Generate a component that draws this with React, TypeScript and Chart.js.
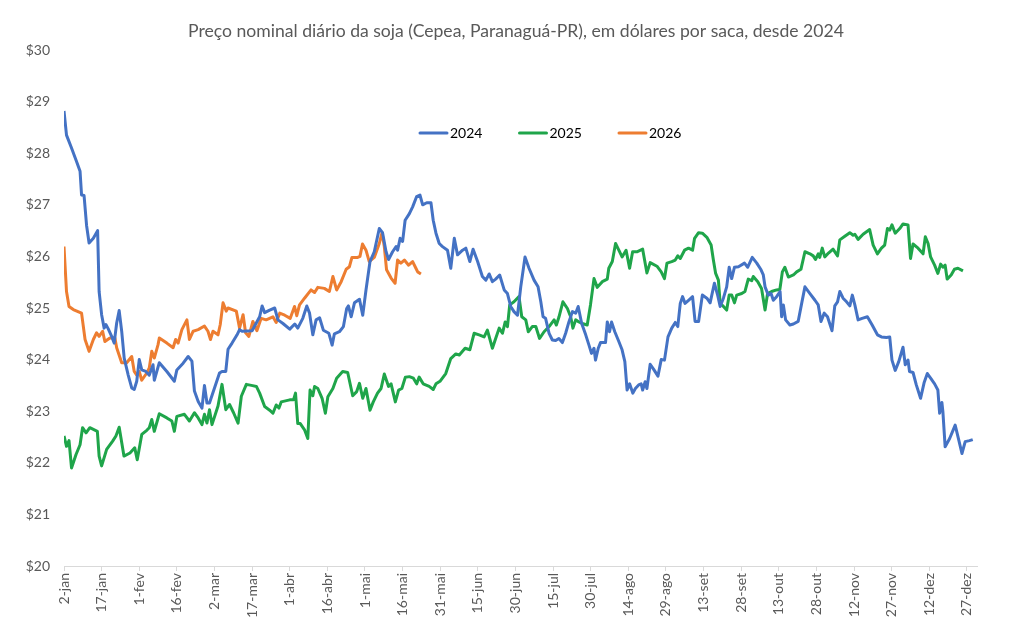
import React, { useEffect, useRef } from "react";
import { Chart, registerables } from "chart.js";

Chart.register(...registerables);

const chartTitle = "Preço nominal diário da soja (Cepea, Paranaguá-PR), em dólares por saca, desde 2024";

const tickLabels = [
  "2-jan", "17-jan", "1-fev", "16-fev", "2-mar", "17-mar", "1-abr", "16-abr", "1-mai",
  "16-mai", "31-mai", "15-jun", "30-jun", "15-jul", "30-jul", "14-ago", "29-ago", "13-set",
  "28-set", "13-out", "28-out", "12-nov", "27-nov", "12-dez", "27-dez",
];

// day offsets since 2-jan, and prices in US$ per saca
const days2024 = [
  0, 1, 3, 5, 6.4, 7, 8, 9, 10, 11.7, 13.4, 14, 15, 16, 16.7, 17.6, 19, 20, 21, 22, 23, 24, 25.6, 27, 28, 29, 30, 31, 32.6, 34, 35.5, 36, 38, 41, 44, 45, 47.5, 49.5, 51, 52, 53.5, 55, 56, 57, 58, 60, 62, 63, 64.5, 65.4, 67, 69, 70, 71, 75, 78, 79, 80, 82, 84, 85.3, 87.3, 90, 92, 93.2, 95.2, 96.8, 97.9, 99.2, 100.5, 101.9, 103.4, 105.6, 106.9, 107.8, 109.8, 111.4, 112.7, 113.4, 114.5, 115.8, 117.8, 119.1, 120.4, 122, 123.7, 125.7, 127, 128.4, 129.4, 131, 132.4, 133, 134, 135, 136, 137.7, 139, 140.6, 141.9, 143, 144.6, 146.3, 147.2, 148.3, 149.6, 150.9, 152.9, 154.2, 155.6, 156.9, 158.9, 160.2, 161.8, 163.1, 164.9, 166.8, 168.2, 169.5, 170.8, 172.1, 173.7, 175.5, 176.8, 178.1, 179.4, 180.8, 182.1, 183.8, 185.4, 187.4, 189, 190.1, 191, 192, 193.4, 194.7, 196, 197.3, 198.7, 200, 201.3, 202.7, 204, 205, 206.4, 208, 209.3, 210.3, 211.3, 211.9, 213, 213.9, 215.9, 216.6, 217.5, 218.3, 219.6, 221.2, 222.5, 223.6, 224.5, 225.5, 226.8, 227.8, 229.1, 230.1, 230.7, 231.7, 232.4, 233.7, 235.1, 236.8, 238.1, 239.4, 240.8, 242.3, 243.7, 244.7, 245.7, 246.6, 247.6, 249, 250.6, 251.6, 253, 254.5, 256.3, 257.6, 259.3, 260.6, 261.6, 262.9, 264.2, 265.2, 266.2, 267.3, 268.9, 271.3, 272.6, 274.4, 276.2, 277.9, 278.8, 279.5, 280.8, 281.9, 282.8, 284.1, 285.5, 286.1, 286.8, 287.7, 289.4, 290.8, 292.7, 294.1, 295.4, 297.4, 299.4, 300.7, 301.8, 303.1, 304.4, 306.2, 307.3, 308.4, 309.3, 310.6, 312, 313.3, 314.3, 315.3, 316.6, 318.2, 320.3, 322.2, 324.3, 325.9, 327.9, 329.2, 330.1, 331.4, 332.8, 334.5, 335.4, 336.5, 337.1, 338.5, 339.8, 341.5, 342.9, 344.2, 345.5, 347.1, 348.4, 349.1, 350, 350.4, 351.3, 353.1, 355.3, 356.6, 358, 359.3, 361, 362.3,
];
const prices2024 = [
  28.82, 28.35, 28.1, 27.84, 27.65, 27.19, 27.18, 26.6, 26.26, 26.35, 26.5, 25.32, 24.87, 24.61, 24.68, 24.6, 24.45, 24.32, 24.71, 24.95, 24.55, 24.03, 23.7, 23.45, 23.42, 23.58, 24.0, 23.8, 23.77, 23.7, 23.9, 23.6, 23.94, 23.77, 23.58, 23.8, 23.93, 24.06, 23.97, 23.39, 23.19, 23.06, 23.5, 23.16, 23.16, 23.45, 23.74, 23.77, 23.77, 24.2, 24.32, 24.48, 24.58, 24.55, 24.56, 24.83, 25.04, 24.91, 24.96, 25.0, 24.77, 24.7, 24.59, 24.69, 24.61, 24.8, 25.04, 24.9, 24.48, 24.77, 24.81, 24.57, 24.51, 24.28, 24.5, 24.54, 24.64, 24.99, 25.04, 24.83, 25.1, 25.17, 24.86, 25.35, 25.9, 26.09, 26.54, 26.46, 26.09, 25.94, 26.09, 26.19, 26.12, 26.35, 26.29, 26.7, 26.83, 26.96, 27.16, 27.19, 27.0, 27.04, 27.04, 26.7, 26.45, 26.25, 26.19, 26.12, 25.77, 26.35, 26.03, 26.12, 26.16, 25.9, 26.14, 25.9, 25.61, 25.54, 25.66, 25.51, 25.56, 25.64, 25.35, 25.28, 25.03, 24.93, 24.86, 25.41, 25.99, 25.77, 25.54, 25.41, 25.12, 24.83, 24.8, 24.51, 24.38, 24.37, 24.41, 24.33, 24.51, 24.73, 24.93, 24.9, 25.03, 24.7, 24.48, 24.28, 24.12, 24.22, 23.99, 24.22, 24.33, 24.33, 24.73, 24.54, 24.73, 24.54, 24.35, 24.19, 23.96, 23.41, 23.53, 23.35, 23.44, 23.51, 23.53, 23.41, 23.57, 23.44, 23.91, 23.81, 23.68, 24.0, 23.99, 24.44, 24.61, 24.72, 24.64, 25.09, 25.22, 25.09, 25.15, 25.22, 24.74, 24.74, 25.25, 25.19, 25.1, 25.48, 25.25, 25.03, 25.19, 25.41, 25.79, 25.57, 25.79, 25.8, 25.87, 25.79, 25.98, 25.87, 25.74, 25.64, 25.41, 25.25, 25.28, 25.15, 25.22, 25.32, 24.83, 25.06, 24.77, 24.67, 24.69, 24.74, 25.09, 25.41, 25.28, 25.15, 25.06, 24.74, 24.9, 24.83, 24.56, 25.04, 25.12, 25.32, 25.19, 25.12, 25.04, 25.25, 25.06, 24.77, 24.8, 24.83, 24.67, 24.48, 24.44, 24.43, 24.44, 23.99, 23.79, 23.96, 24.24, 23.9, 23.99, 23.77, 23.75, 23.51, 23.25, 23.55, 23.73, 23.64, 23.53, 23.41, 22.96, 23.17, 22.99, 22.31, 22.47, 22.73, 22.47, 22.18, 22.41, 22.43, 22.45,
];

const days2025 = [
  0, 1, 2, 3, 4.8, 6.4, 7.4, 8.8, 10.3, 13.3, 14, 15, 17, 19.4, 20.7, 22, 23.9, 26.3, 28.2, 29.2, 31, 33, 34, 35, 36, 38, 41, 43, 44, 45, 48, 50, 52, 53.5, 55, 56, 57, 58, 59, 61.4, 63, 64.5, 66, 67.6, 69.4, 70.7, 72.7, 74.7, 76.7, 78, 80, 82, 83.3, 84.6, 85.7, 86.6, 90, 91.5, 92.3, 93.2, 94.2, 95.9, 97.2, 98.1, 99.2, 99.9, 101.2, 102.9, 104.2, 105.2, 107.2, 108.7, 111.1, 113.1, 115.1, 116.7, 117.8, 119.1, 120.4, 122, 123.3, 125, 126.4, 127.7, 129.4, 130.4, 132.1, 133.4, 134.7, 136.1, 137.7, 139.3, 140.6, 141.6, 143.2, 145.6, 147.2, 148.3, 149.9, 152.2, 154.2, 156.2, 157.6, 159.9, 161.8, 163.5, 165.5, 167.5, 168.8, 170.8, 172.1, 173.5, 174.8, 175.9, 176.8, 177.7, 179.4, 181.4, 182.5, 184.1, 185.1, 186.7, 188.1, 189.6, 191.4, 193.4, 195.4, 196.3, 197.3, 198.9, 200.7, 202, 202.9, 204, 205.3, 206.6, 208.6, 209.9, 211.3, 212.6, 214.6, 216.6, 217.2, 218.6, 219.9, 221.2, 222.5, 224.1, 225.5, 226.7, 228.4, 230.7, 232.4, 233.7, 236.4, 238.1, 239.4, 240.4, 242.3, 243.7, 244.7, 245.7, 247.4, 249, 250.6, 251.4, 253, 254.5, 256.3, 258, 258.9, 259.8, 260.9, 261.6, 262.9, 264.2, 265.2, 266.2, 267.3, 268.2, 270.2, 271.5, 272.8, 274.2, 274.8, 276.6, 278.1, 279.5, 280.5, 282.1, 284.1, 285.4, 286.4, 287.4, 288.8, 290.8, 292.1, 293.8, 295.4, 297.4, 298.7, 299.6, 300.7, 301.3, 302.3, 303.3, 304.9, 306.6, 308.4, 309.3, 311.3, 313.3, 314.6, 315.3, 316.6, 318.6, 321.2, 322.6, 324.3, 325.9, 327.2, 328.3, 329.2, 330.1, 331.4, 333.2, 334.5, 336.5, 337.5, 338.5, 340.5, 342.5, 343.4, 344.5, 345.5, 347.1, 348.4, 349.5, 350.4, 351.3, 352.1, 353.7, 355, 356.4, 358.4,
];
const prices2025 = [
  22.52, 22.32, 22.43, 21.9, 22.16, 22.35, 22.68, 22.58, 22.68, 22.61, 22.13, 21.94, 22.26, 22.42, 22.52, 22.69, 22.13, 22.19, 22.29, 22.06, 22.55, 22.63, 22.68, 22.84, 22.61, 22.95, 22.87, 22.81, 22.61, 22.9, 22.94, 22.81, 22.97, 22.87, 22.74, 22.94, 22.77, 23.03, 22.74, 23.1, 23.52, 23.03, 23.13, 22.97, 22.77, 23.29, 23.52, 23.5, 23.48, 23.35, 23.09, 23.02, 22.96, 23.12, 23.06, 23.18, 23.22, 23.22, 23.35, 22.76, 22.76, 22.64, 22.47, 23.41, 23.3, 23.48, 23.44, 23.25, 22.96, 23.28, 23.44, 23.64, 23.77, 23.75, 23.3, 23.38, 23.54, 23.25, 23.44, 23.02, 23.18, 23.35, 23.44, 23.72, 23.48, 23.53, 23.18, 23.41, 23.44, 23.66, 23.67, 23.64, 23.53, 23.66, 23.53, 23.48, 23.42, 23.53, 23.58, 23.73, 24.02, 24.11, 24.09, 24.22, 24.19, 24.51, 24.48, 24.44, 24.57, 24.22, 24.41, 24.61, 24.51, 24.73, 24.64, 25.06, 25.12, 25.22, 24.83, 24.77, 24.54, 24.64, 24.64, 24.41, 24.54, 24.64, 24.77, 24.67, 24.82, 25.12, 24.99, 24.83, 24.61, 24.77, 24.73, 24.7, 24.67, 25.06, 25.57, 25.4, 25.51, 25.56, 25.77, 25.9, 26.25, 26.12, 25.99, 26.12, 25.77, 26.09, 26.09, 26.14, 25.68, 25.88, 25.81, 25.7, 25.57, 25.87, 25.9, 25.93, 26.01, 25.96, 26.12, 26.16, 26.12, 26.35, 26.46, 26.45, 26.37, 26.22, 25.93, 25.67, 25.54, 25.09, 25.03, 24.96, 25.25, 25.25, 25.1, 25.25, 25.28, 25.32, 25.56, 25.53, 25.61, 25.51, 25.38, 24.96, 25.28, 25.32, 25.35, 25.36, 25.7, 25.79, 25.6, 25.64, 25.7, 25.75, 26.09, 26.05, 26.01, 25.94, 26.05, 25.98, 26.16, 25.99, 26.07, 26.14, 26.01, 26.32, 26.39, 26.46, 26.41, 26.43, 26.33, 26.43, 26.52, 26.22, 26.05, 26.16, 26.22, 26.54, 26.51, 26.61, 26.45, 26.54, 26.63, 26.61, 25.96, 26.24, 26.16, 26.05, 26.38, 26.25, 25.99, 25.83, 25.67, 25.85, 25.79, 25.83, 25.56, 25.64, 25.75, 25.77, 25.72,
];

const days2026 = [
  0, 1, 2, 3.7, 7, 8.4, 10, 11.7, 13, 14, 15.4, 16.3, 18.3, 20.3, 21, 23, 25, 27, 28, 29, 30, 31, 33, 34, 35, 36, 37.5, 38, 41, 43.5, 44.5, 45.5, 47, 49, 50, 51.5, 53.5, 56, 57.4, 58.4, 59.4, 61.4, 62.3, 63.4, 64.7, 65.4, 68.7, 70, 71.4, 72.4, 73.7, 75.3, 76.9, 78.6, 80.6, 83.3, 84.6, 86, 88, 90.2, 91.9, 92.8, 93.9, 95.9, 98.5, 99.9, 101.2, 103.8, 105.8, 107.2, 108.7, 110.5, 112.5, 113.8, 114.8, 117.1, 118, 119, 120.4, 121.7, 123.7, 125.7, 126.8, 127.7, 128.6, 130.4, 132, 133, 134.3, 135.7, 137.4, 139, 140.3, 141, 142.3,
];
const prices2026 = [
  26.19, 25.32, 25.03, 24.97, 24.9, 24.39, 24.16, 24.39, 24.52, 24.45, 24.55, 24.35, 24.42, 24.42, 24.23, 23.94, 23.94, 24.06, 23.77, 23.7, 23.77, 23.6, 23.74, 23.84, 24.16, 24.03, 24.29, 24.42, 24.32, 24.23, 24.39, 24.32, 24.58, 24.77, 24.39, 24.55, 24.58, 24.65, 24.55, 24.39, 24.55, 24.48, 24.68, 25.1, 24.94, 25.0, 24.94, 24.61, 24.87, 24.52, 24.45, 24.74, 24.56, 24.8, 24.77, 24.83, 24.72, 24.9, 24.86, 24.8, 25.03, 24.85, 25.06, 25.19, 25.35, 25.3, 25.4, 25.38, 25.32, 25.61, 25.35, 25.51, 25.75, 25.8, 25.98, 25.98, 26.0, 26.24, 26.12, 25.9, 25.98, 26.25, 26.46, 26.19, 25.74, 25.58, 25.48, 25.93, 25.87, 25.93, 25.83, 25.9, 25.77, 25.7, 25.66,
];

const seriesNames = ["2024", "2025", "2026"];
const seriesColors = ["#4472C4", "#1FA54A", "#ED7D31"];

const FONT = "Lato, 'Open Sans', sans-serif";

const toPoints = (xs: number[], ys: number[]) => xs.map((x, i) => ({ x, y: ys[i] }));

const titleAndLegend = {
  id: "titleAndLegend",
  afterDraw(chart: any) {
    const { ctx, chartArea, width } = chart;
    ctx.save();
    // title
    ctx.font = `17.6px ${FONT}`;
    ctx.fillStyle = "#595959";
    ctx.textAlign = "center";
    ctx.textBaseline = "middle";
    ctx.fillText(chartTitle, width / 2 + 10.5, 31);
    // legend inside plot area
    ctx.font = `14px ${FONT}`;
    ctx.textAlign = "left";
    const y = chartArea.top + 83;
    chart.data.datasets.forEach((ds: any, i: number) => {
      const x0 = chartArea.left + 356 + i * 99.5;
      ctx.strokeStyle = ds.borderColor;
      ctx.lineWidth = 3;
      ctx.lineCap = "round";
      ctx.beginPath();
      ctx.moveTo(x0, y);
      ctx.lineTo(x0 + 27, y);
      ctx.stroke();
      ctx.fillStyle = "#000000";
      ctx.fillText(ds.label, x0 + 30, y + 0.5);
    });
    ctx.restore();
  },
};

export default function App() {
  const ref = useRef<HTMLCanvasElement | null>(null);

  useEffect(() => {
    if (!ref.current) return;
    const chart = new Chart(ref.current, {
      type: "line",
      data: {
        datasets: [
          { label: seriesNames[0], data: toPoints(days2024, prices2024) },
          { label: seriesNames[1], data: toPoints(days2025, prices2025) },
          { label: seriesNames[2], data: toPoints(days2026, prices2026) },
        ].map((d, i) => ({
          ...d,
          borderColor: seriesColors[i],
          backgroundColor: seriesColors[i],
          borderWidth: 3,
          pointRadius: 0,
          tension: 0,
          fill: false,
          borderJoinStyle: "round" as const,
        })),
      },
      options: {
        animation: false,
        responsive: false,
        maintainAspectRatio: false,
        layout: { padding: { left: 8, right: 34, top: 50, bottom: 0 } },
        plugins: {
          legend: { display: false },
          tooltip: { enabled: false },
          title: { display: false },
        },
        scales: {
          x: {
            type: "linear",
            min: 0,
            max: 364,
            grid: {
              display: true,
              drawOnChartArea: false,
              drawTicks: true,
              tickLength: 5,
              color: "#D9D9D9",
            },
            border: { display: true, color: "#D9D9D9", width: 1 },
            ticks: {
              stepSize: 15,
              includeBounds: false,
              autoSkip: false,
              minRotation: 90,
              maxRotation: 90,
              padding: 2,
              color: "#595959",
              font: { family: FONT, size: 14 },
              callback: (v: any) => tickLabels[Math.round(Number(v) / 15)] ?? "",
            },
            afterFit: (s: any) => {
              s.height = 63;
            },
          },
          y: {
            min: 20,
            max: 30,
            grid: { display: false, drawTicks: false },
            border: { display: false },
            ticks: {
              stepSize: 1,
              padding: 14,
              color: "#595959",
              font: { family: FONT, size: 14 },
              callback: (v: any) => "$" + v,
            },
            afterFit: (s: any) => {
              s.width = 56;
            },
          },
        },
      },
      plugins: [titleAndLegend],
    });
    return () => chart.destroy();
  }, []);

  return (
    <div style={{ position: "fixed", left: 0, top: 0, width: 1011, height: 629, background: "#fff" }}>
      <canvas ref={ref} width={1011} height={629} style={{ width: 1011, height: 629 }} />
    </div>
  );
}
